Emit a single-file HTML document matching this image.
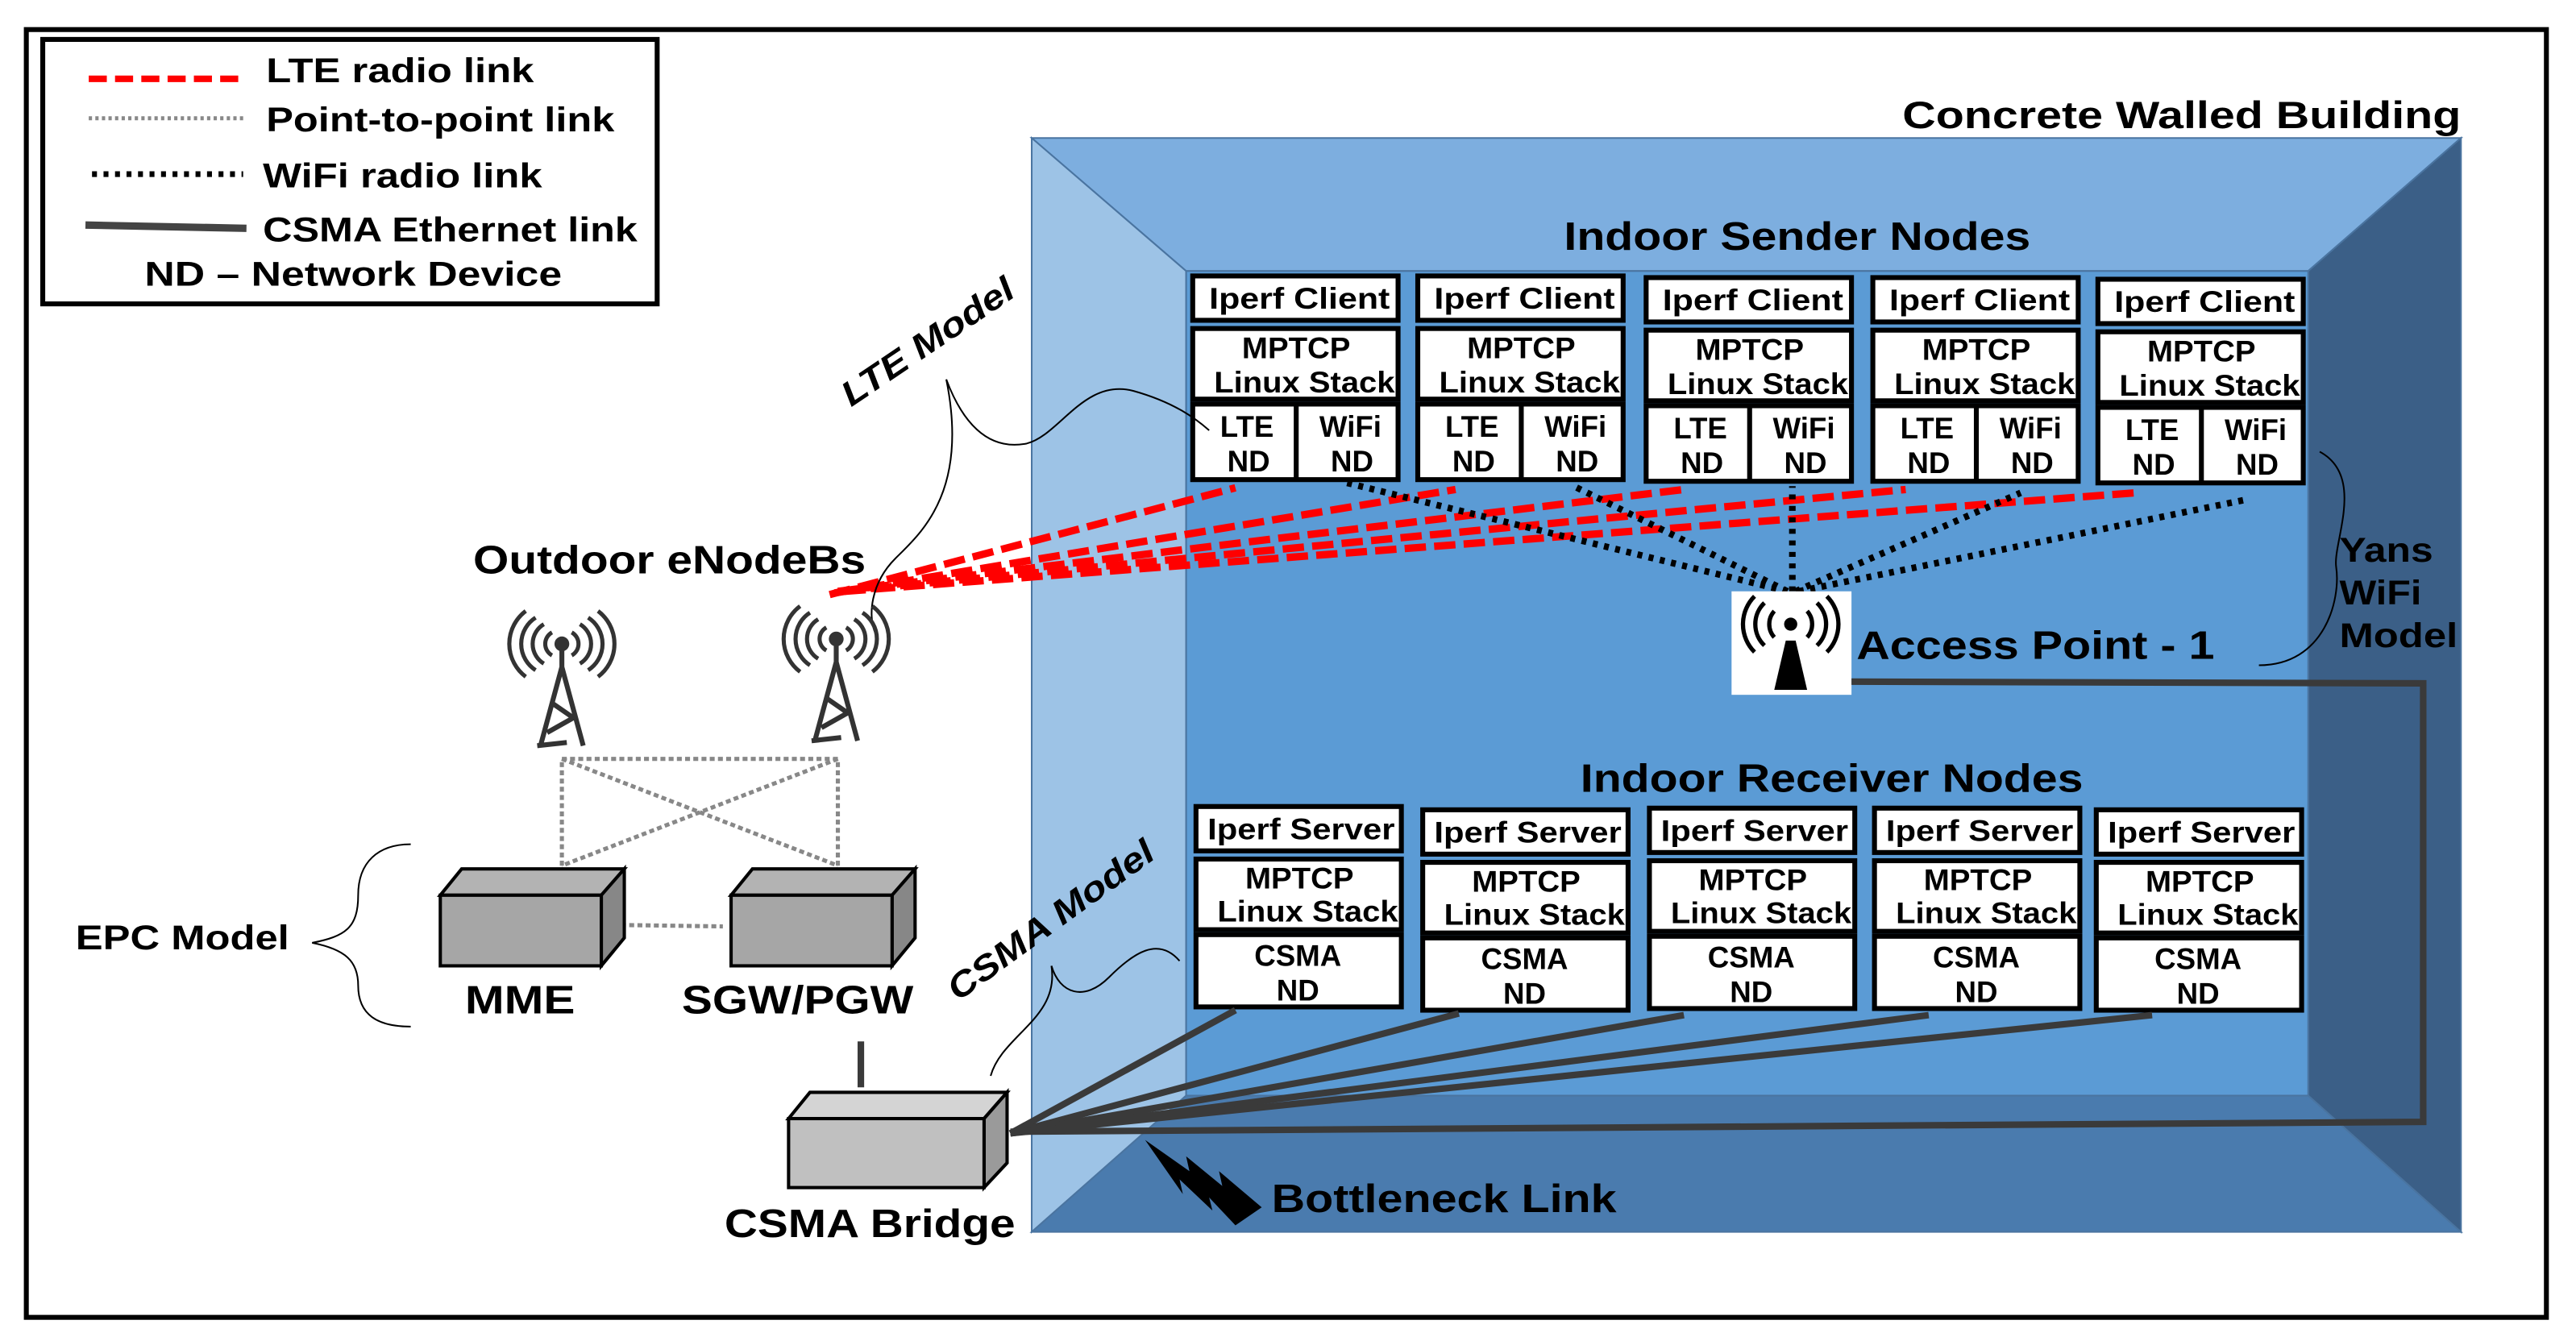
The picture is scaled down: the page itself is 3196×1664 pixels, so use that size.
<!DOCTYPE html>
<html><head><meta charset="utf-8"><style>
html,body{margin:0;padding:0;background:#fff;}
svg{display:block;}
text{font-family:"Liberation Sans",sans-serif;font-weight:bold;fill:#000;}
</style></head><body>
<svg width="3196" height="1664" viewBox="0 0 1568 816.4" xmlns="http://www.w3.org/2000/svg">
<rect x="0" y="0" width="1568" height="817" fill="#fff"/>
<rect x="16" y="18" width="1534" height="784" fill="none" stroke="#000" stroke-width="3"/>
<!-- legend -->
<rect x="26" y="24" width="374" height="161" fill="#fff" stroke="#000" stroke-width="3"/>
<line x1="54" y1="48" x2="150" y2="48" stroke="#f00" stroke-width="4" stroke-dasharray="11,5"/>
<text x="162" y="50" font-size="21" textLength="163" lengthAdjust="spacingAndGlyphs">LTE radio link</text>
<line x1="54" y1="72" x2="150" y2="72" stroke="#888" stroke-width="2.5" stroke-dasharray="2,2"/>
<text x="162" y="80" font-size="21" textLength="212" lengthAdjust="spacingAndGlyphs">Point-to-point link</text>
<line x1="56" y1="106" x2="148" y2="106" stroke="#000" stroke-width="3.5" stroke-dasharray="3,4"/>
<text x="160" y="114" font-size="21" textLength="170" lengthAdjust="spacingAndGlyphs">WiFi radio link</text>
<line x1="52" y1="137" x2="150" y2="139" stroke="#444" stroke-width="4.5"/>
<text x="160" y="147" font-size="21" textLength="228" lengthAdjust="spacingAndGlyphs">CSMA Ethernet link</text>
<text x="88" y="174" font-size="21" textLength="254" lengthAdjust="spacingAndGlyphs">ND –  Network Device</text>
<!-- building -->
<polygon points="628,84 1498,84 1405,165 722,165" fill="#7daedf" stroke="#4a74a0" stroke-width="1"/>
<polygon points="628,84 722,165 722,667 628,750" fill="#9dc3e6" stroke="#4a74a0" stroke-width="1"/>
<polygon points="1498,84 1498,750 1405,667 1405,165" fill="#3b5f87" stroke="#4a74a0" stroke-width="1"/>
<polygon points="628,750 722,667 1405,667 1498,750" fill="#4a7bae" stroke="#4a74a0" stroke-width="1"/>
<rect x="722" y="165" width="683" height="502" fill="#5b9bd5" stroke="#4a74a0" stroke-width="1"/>
<text x="1158" y="78" font-size="23" textLength="340" lengthAdjust="spacingAndGlyphs">Concrete Walled Building</text>
<text x="952" y="152" font-size="24" textLength="284" lengthAdjust="spacingAndGlyphs">Indoor Sender Nodes</text>
<text x="962" y="482" font-size="24" textLength="306" lengthAdjust="spacingAndGlyphs">Indoor Receiver Nodes</text>
<!-- sender nodes -->
<g id="s1" transform="translate(726,168)">
<rect x="0" y="0" width="125" height="27" fill="#fff" stroke="#000" stroke-width="3"/>
<text x="10" y="20" font-size="18" textLength="110" lengthAdjust="spacingAndGlyphs">Iperf Client</text>
<rect x="0" y="32" width="125" height="43" fill="#fff" stroke="#000" stroke-width="3"/>
<text x="30" y="50" font-size="18" textLength="66" lengthAdjust="spacingAndGlyphs">MPTCP</text>
<text x="13" y="71" font-size="18" textLength="110" lengthAdjust="spacingAndGlyphs">Linux Stack</text>
<rect x="0" y="78" width="125" height="46" fill="#fff" stroke="#000" stroke-width="3"/>
<line x1="63" y1="78" x2="63" y2="124" stroke="#000" stroke-width="3"/>
<text x="33" y="98" text-anchor="middle" font-size="18">LTE</text>
<text x="34" y="119" text-anchor="middle" font-size="18">ND</text>
<text x="96" y="98" text-anchor="middle" font-size="18">WiFi</text>
<text x="97" y="119" text-anchor="middle" font-size="18">ND</text>
</g>
<use href="#s1" transform="translate(137,0)"/>
<use href="#s1" transform="translate(276,1)"/>
<use href="#s1" transform="translate(414,1)"/>
<use href="#s1" transform="translate(551,2)"/>
<g id="r1" transform="translate(728,491)">
<rect x="0" y="0" width="125" height="27" fill="#fff" stroke="#000" stroke-width="3"/>
<text x="7" y="20" font-size="18" textLength="114" lengthAdjust="spacingAndGlyphs">Iperf Server</text>
<rect x="0" y="32" width="125" height="43" fill="#fff" stroke="#000" stroke-width="3"/>
<text x="30" y="50" font-size="18" textLength="66" lengthAdjust="spacingAndGlyphs">MPTCP</text>
<text x="13" y="70" font-size="18" textLength="110" lengthAdjust="spacingAndGlyphs">Linux Stack</text>
<rect x="0" y="78" width="125" height="44" fill="#fff" stroke="#000" stroke-width="3"/>
<text x="62" y="97" text-anchor="middle" font-size="18">CSMA</text>
<text x="62" y="118" text-anchor="middle" font-size="18">ND</text>
</g>
<use href="#r1" transform="translate(138,2)"/>
<use href="#r1" transform="translate(276,1)"/>
<use href="#r1" transform="translate(413,1)"/>
<use href="#r1" transform="translate(548,2)"/>
<!-- LTE red links -->
<g stroke="#f00" stroke-width="4.5" stroke-dasharray="13,5" fill="none">
<line x1="505" y1="362" x2="752" y2="297"/>
<line x1="508" y1="361" x2="886" y2="298"/>
<line x1="510" y1="360" x2="1025" y2="298"/>
<line x1="512" y1="360" x2="1160" y2="298"/>
<line x1="514" y1="360" x2="1300" y2="300"/>
</g>
<!-- WiFi dotted -->
<g stroke="#000" stroke-width="4" stroke-dasharray="3,4" fill="none">
<line x1="1088" y1="360" x2="820" y2="294"/>
<line x1="1088" y1="360" x2="958" y2="296"/>
<line x1="1091" y1="360" x2="1091" y2="296"/>
<line x1="1093" y1="360" x2="1230" y2="300"/>
<line x1="1095" y1="360" x2="1368" y2="304"/>
</g>
<!-- Access point -->
<rect x="1054" y="360" width="73" height="63" fill="#fff"/>
<g fill="none" stroke="#000" stroke-width="2.6">
<path d="M1080,372 a12,12 0 0 0 0,16"/><path d="M1074,367 a18,18 0 0 0 0,26"/><path d="M1068,363 a24,24 0 0 0 0,34"/>
<path d="M1100,372 a12,12 0 0 1 0,16"/><path d="M1106,367 a18,18 0 0 1 0,26"/><path d="M1112,363 a24,24 0 0 1 0,34"/>
</g>
<circle cx="1090" cy="380" r="4" fill="#000"/>
<path d="M1087,390 L1093,390 L1100,420 L1080,420 Z" fill="#000"/>
<text x="1130" y="401" font-size="24" textLength="218" lengthAdjust="spacingAndGlyphs">Access Point - 1</text>
<text x="1424" y="342" font-size="21" textLength="57" lengthAdjust="spacingAndGlyphs">Yans</text>
<text x="1424" y="368" font-size="21" textLength="50" lengthAdjust="spacingAndGlyphs">WiFi</text>
<text x="1424" y="394" font-size="21" textLength="72" lengthAdjust="spacingAndGlyphs">Model</text>
<path d="M1412,275 C1440,290 1420,330 1422,345 C1425,365 1415,405 1375,405" fill="none" stroke="#000" stroke-width="1"/>
<!-- CSMA links -->
<g stroke="#3a3a3a" stroke-width="4" fill="none">
<line x1="615" y1="690" x2="752" y2="615"/>
<line x1="615" y1="690" x2="888" y2="617"/>
<line x1="615" y1="690" x2="1025" y2="618"/>
<line x1="615" y1="690" x2="1174" y2="618"/>
<line x1="615" y1="690" x2="1310" y2="618"/>
<polyline points="615,689 1475,683 1475,416 1127,415"/>
<line x1="524" y1="634" x2="524" y2="662"/>
</g>
<text x="774" y="738" font-size="24" textLength="210" lengthAdjust="spacingAndGlyphs">Bottleneck Link</text>
<path d="M697,694 L724,713 L722,704 L744,722 L742,713 L768,735 L752,746 L736,729 L738,737 L718,718 L720,727 Z" fill="#000"/>
<!-- LTE model / csma model labels -->
<text transform="translate(518,248) rotate(-34)" font-size="21" font-style="italic" textLength="122" lengthAdjust="spacingAndGlyphs">LTE Model</text>
<path d="M576,231 C585,255 600,275 625,270 C645,265 660,230 690,238 C715,245 728,255 736,262" fill="none" stroke="#000" stroke-width="1"/>
<path d="M576,231 C590,300 560,325 545,340 C530,355 528,375 533,386" fill="none" stroke="#000" stroke-width="1"/>
<text transform="translate(583,610) rotate(-36)" font-size="21" font-style="italic" textLength="150" lengthAdjust="spacingAndGlyphs">CSMA Model</text>
<path d="M640,588 C645,605 660,610 675,595 C690,580 705,570 718,585" fill="none" stroke="#000" stroke-width="1"/>
<path d="M640,588 C645,620 610,630 603,655" fill="none" stroke="#000" stroke-width="1"/>
<!-- eNodeBs -->
<text x="288" y="349" font-size="24" textLength="239" lengthAdjust="spacingAndGlyphs">Outdoor  eNodeBs</text>
<g id="tw" fill="none" stroke="#333" stroke-width="2.5">
<path d="M336,385 a8,8 0 0 0 0,14"/><path d="M331,380 a14,14 0 0 0 0,24"/><path d="M326,376 a19,19 0 0 0 0,32"/><path d="M320,372 a25,25 0 0 0 0,40"/>
<path d="M348,385 a8,8 0 0 1 0,14"/><path d="M353,380 a14,14 0 0 1 0,24"/><path d="M358,376 a19,19 0 0 1 0,32"/><path d="M364,372 a25,25 0 0 1 0,40"/>
<circle cx="342" cy="392" r="4.5" fill="#333" stroke="none"/>
<path d="M342,395 L342,410 M342,406 L329,454 M342,406 L355,454 M336,428 L349,437 L333,446 M327,454 L345,452" stroke-width="3"/>
</g>
<use href="#tw" transform="translate(167,-3)"/>
<g stroke="#888" stroke-width="2.5" stroke-dasharray="3,2" fill="none">
<polyline points="342,527 342,462 510,462 510,527"/>
<line x1="342" y1="462" x2="510" y2="527"/>
<line x1="510" y1="462" x2="342" y2="527"/>
<line x1="368" y1="563" x2="440" y2="564"/>
</g>
<!-- boxes -->
<g stroke="#000" stroke-width="2">
<polygon points="268,545 281,529 380,529 366,545" fill="#b3b3b3"/>
<polygon points="366,545 380,529 380,571 366,588" fill="#878787"/>
<rect x="268" y="545" width="98" height="43" fill="#a6a6a6"/>
<polygon points="445,545 458,529 557,529 543,545" fill="#b3b3b3"/>
<polygon points="543,545 557,529 557,571 543,588" fill="#878787"/>
<rect x="445" y="545" width="98" height="43" fill="#a6a6a6"/>
<polygon points="480,681 493,665 613,665 599,681" fill="#d4d4d4"/>
<polygon points="599,681 613,665 613,708 599,723" fill="#9a9a9a"/>
<rect x="480" y="681" width="119" height="42" fill="#c0c0c0"/>
</g>
<text x="283" y="617" font-size="24" textLength="67" lengthAdjust="spacingAndGlyphs">MME</text>
<text x="415" y="617" font-size="24" textLength="141" lengthAdjust="spacingAndGlyphs">SGW/PGW</text>
<text x="441" y="753" font-size="24" textLength="177" lengthAdjust="spacingAndGlyphs">CSMA Bridge</text>
<text x="46" y="578" font-size="21" textLength="130" lengthAdjust="spacingAndGlyphs">EPC Model</text>
<path d="M250,514 C230,514 218,525 218,545 C218,565 210,570 190,574 C210,578 218,585 218,600 C218,618 230,625 250,625" fill="none" stroke="#000" stroke-width="1"/>
</svg>
</body></html>
